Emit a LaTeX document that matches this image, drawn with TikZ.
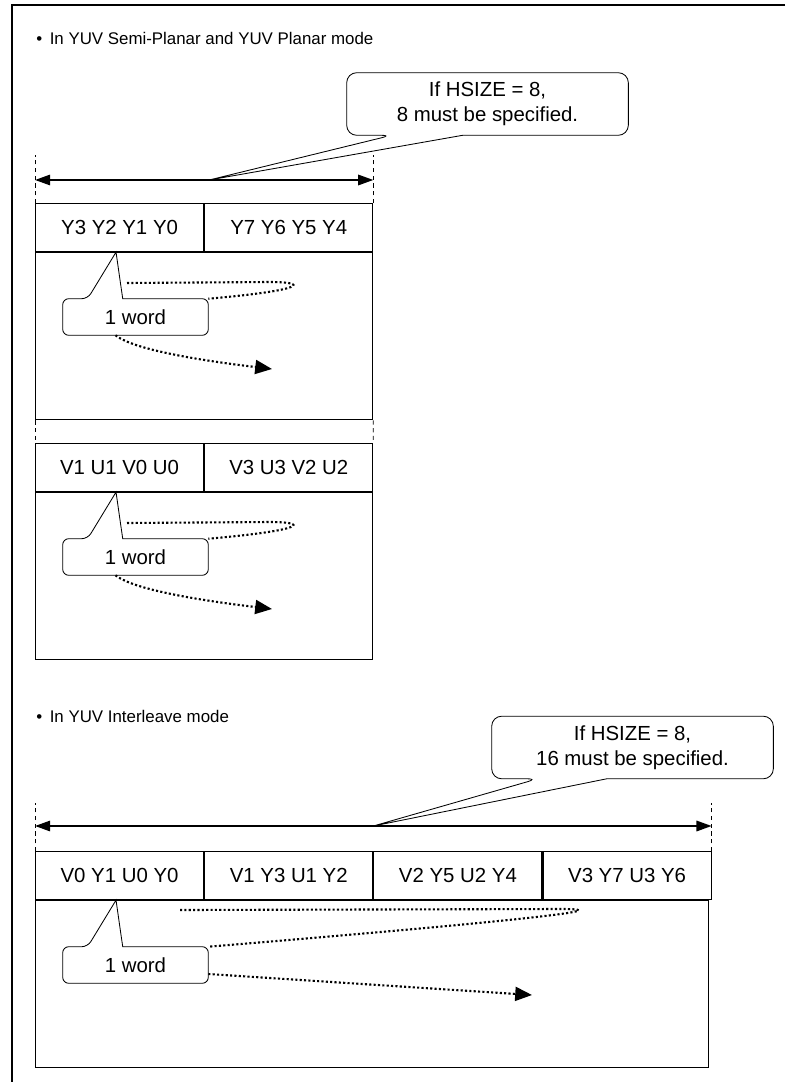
\documentclass[tikz,border=0pt]{standalone}
\usepackage{fontspec}
\setmainfont{Liberation Sans}
\usetikzlibrary{arrows.meta, positioning}

\begin{document}
\begin{tikzpicture}[
  x=0.025cm, y=-0.025cm,
  node distance=0cm and 0cm,
  every node/.style={font=\fontsize{14.5}{17.5}\selectfont},
  heading/.style={anchor=west, inner sep=0pt, font=\fontsize{12}{14.5}\selectfont},
  cell/.style={draw, line width=0.8pt, minimum width=4.2cm, minimum height=1.2cm, inner sep=0pt},
  area/.style={draw, line width=0.8pt, minimum height=4.175cm, inner sep=0pt, anchor=north west},
  note/.style={align=center, minimum width=7.025cm, minimum height=1.55cm, inner sep=0pt},
  wordbox/.style={minimum width=3.625cm, minimum height=0.9cm, inner sep=0pt},
  balloon/.style={draw, line width=0.6pt},
  guide/.style={line width=0.5pt, dash pattern=on 3pt off 2.5pt},
  dim/.style={{Triangle[length=0.38cm,width=0.26cm]}-{Triangle[length=0.38cm,width=0.26cm]}, line width=1.4pt},
  trail/.style={line width=1.5pt, dash pattern=on 1.5pt off 1.6pt},
  trailarrow/.style={trail, -{Triangle[length=0.42cm,width=0.35cm]}}
]
\useasboundingbox (0,0) rectangle (785,1082);

% Frame
\draw[line width=1.8pt] (785,5) -- (12,5) -- (12,1082);

% Titles
\node[heading] (title1) at (36,38) {{\large\textbullet}\hspace{0.45em}In YUV Semi-Planar and YUV Planar mode};
\node[heading] (title2) at (36,716) {{\large\textbullet}\hspace{0.45em}In YUV Interleave mode};

% Semi-Planar / Planar
\node[cell, anchor=north west] (ycell1) at (35,203) {Y3 Y2 Y1 Y0};
\node[cell, right=of ycell1] (ycell2) {Y7 Y6 Y5 Y4};
\node[area, minimum width=8.425cm] (yarea) at (ycell1.south west) {};

\node[cell, anchor=north west] (uvcell1) at (35,443) {V1 U1 V0 U0};
\node[cell, right=of uvcell1] (uvcell2) {V3 U3 V2 U2};
\node[area, minimum width=8.425cm] (uvarea) at (uvcell1.south west) {};

% Interleave
\node[cell, anchor=north west] (icell1) at (35,851) {V0 Y1 U0 Y0};
\node[cell, right=of icell1] (icell2) {V1 Y3 U1 Y2};
\node[cell, right=of icell2] (icell3) {V2 Y5 U2 Y4};
\node[cell, right=of icell3] (icell4) {V3 Y7 U3 Y6};
\node[area, minimum width=16.825cm] (iarea) at (icell1.south west) {};

% Guides
\draw[guide] (ycell1.north west) -- ++(0,-48);
\draw[guide] (ycell2.north east) -- ++(0,-48);
\draw[guide] (yarea.south west) -- (uvcell1.north west);
\draw[guide] (yarea.south east) -- (uvcell2.north east);
\draw[guide] (icell1.north west) -- ++(0,-48);
\draw[guide] (icell4.north east) -- ++(0,-48);

% HSIZE callouts
\coordinate (ytip) at ([xshift=0.125cm, yshift=0.575cm]ycell1.north east);
\node[note] (note1) at (487.5,104) {If HSIZE = 8,\\8 must be specified.};
\draw[balloon] ([xshift=2.9cm]note1.south west) [rounded corners=0.25cm] -- (note1.south east) -- (note1.north east) -- (note1.north west) -- (note1.south west) -- ([xshift=1.125cm]note1.south west) [sharp corners] -- (ytip) -- cycle;
\draw[dim] ([yshift=0.575cm]ycell1.north west) -- ([yshift=0.575cm]ycell2.north east);

\coordinate (itip) at ([yshift=0.625cm]icell2.north east);
\node[note] (note2) at (632.5,747.5) {If HSIZE = 8,\\16 must be specified.};
\draw[balloon] ([xshift=2.875cm]note2.south west) [rounded corners=0.25cm] -- (note2.south east) -- (note2.north east) -- (note2.north west) -- (note2.south west) -- ([xshift=1.15cm]note2.south west) [sharp corners] -- (itip) -- cycle;
\draw[dim] ([yshift=0.625cm]icell1.north west) -- ([yshift=0.625cm]icell4.north east);

% Word callouts
\node[wordbox] (word1) at (135.5,317) {1 word};
\draw[balloon] ([xshift=1.5cm]word1.north west) [rounded corners=0.15cm] -- (word1.north east) -- (word1.south east) -- (word1.south west) -- (word1.north west) -- ([xshift=0.625cm]word1.north west) [sharp corners] -- ([xshift=2.025cm]ycell1.south west) -- cycle;

\node[wordbox] (word2) at (135.5,557) {1 word};
\draw[balloon] ([xshift=1.5cm]word2.north west) [rounded corners=0.15cm] -- (word2.north east) -- (word2.south east) -- (word2.south west) -- (word2.north west) -- ([xshift=0.625cm]word2.north west) [sharp corners] -- ([xshift=2.025cm]uvcell1.south west) -- cycle;

\node[wordbox] (word3) at (135.5,965) {1 word};
\draw[balloon] ([xshift=1.5cm]word3.north west) [rounded corners=0.15cm] -- (word3.north east) -- (word3.south east) -- (word3.south west) -- (word3.north west) -- ([xshift=0.625cm]word3.north west) [sharp corners] -- ([xshift=2.025cm]icell1.south west) -- cycle;

% Scan order
\coordinate (ystart) at (127,283);
\coordinate (yend) at (272,369);
\draw[trail] (ystart) -- (270,282) .. controls (308,282) and (308,290) .. (word1.north east);
\draw[trailarrow] ([xshift=-0.5cm]word1.south) .. controls (130,347) and (180,358) .. (yend);

\coordinate (uvstart) at (127,523);
\coordinate (uvend) at (272,609);
\draw[trail] (uvstart) -- (270,522) .. controls (308,522) and (308,530) .. (word2.north east);
\draw[trailarrow] ([xshift=-0.5cm]word2.south) .. controls (130,587) and (180,598) .. (uvend);

\coordinate (istart) at (180,910);
\coordinate (iend) at (532,995);
\draw[trail] (istart) -- (560,909) .. controls (603,909) and (603,914) .. (word3.north east);
\draw[trailarrow] ([yshift=-0.225cm]word3.east) -- (iend);

\end{tikzpicture}
\end{document}
